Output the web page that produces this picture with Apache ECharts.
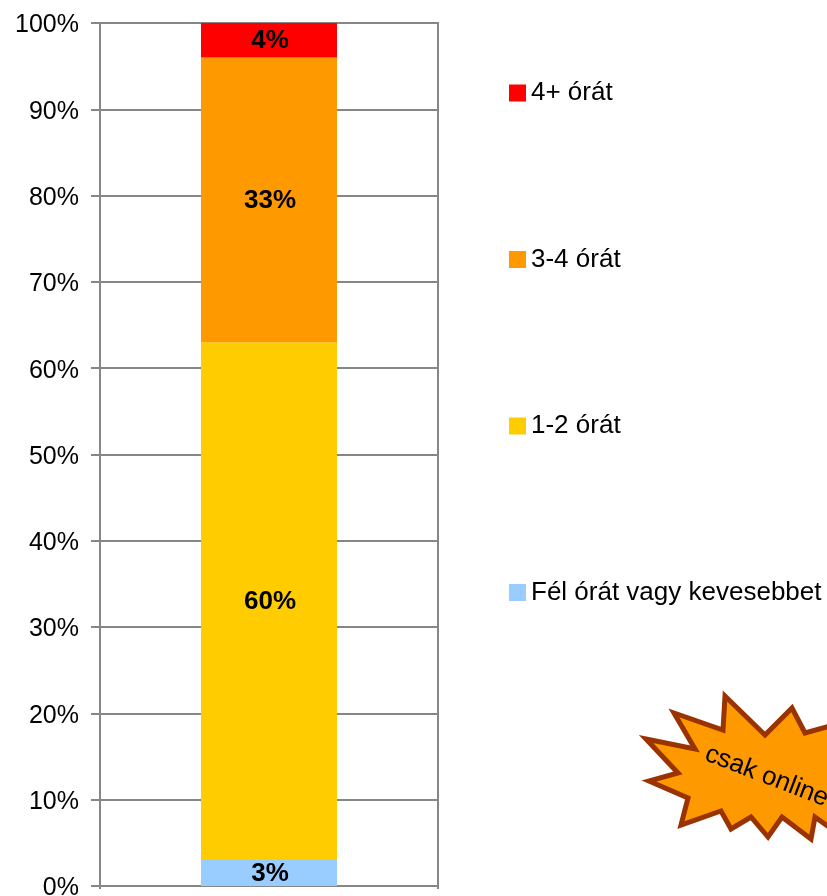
<!DOCTYPE html>
<html>
<head>
<meta charset="utf-8">
<style>
html,body{margin:0;padding:0;background:#fff;overflow:hidden}
#main{width:827px;height:896px}
</style>
<script src="https://cdn.jsdelivr.net/npm/echarts@6/dist/echarts.min.js"></script>
</head>
<body>
<div id="main"></div>
<script>
// adatok
var categories = [''];
var seriesNames = ['Fél órát vagy kevesebbet', '1-2 órát', '3-4 órát', '4+ órát'];
var seriesColors = ['#99ccff', '#ffcc00', '#ff9900', '#ff0000'];
var halfHour = [3];
var oneTwo = [60];
var threeFour = [33];
var fourPlus = [4];
var legendOrder = ['4+ órát', '3-4 órát', '1-2 órát', 'Fél órát vagy kevesebbet'];
var seriesValues = [halfHour, oneTwo, threeFour, fourPlus];

var font = '"Liberation Sans", Arial, sans-serif';
var chart = echarts.init(document.getElementById('main'));

// csillag alakzat (a jobb széle kilóg a képből)
var starPoints = [
    [646, 739], [695, 749], [674, 713], [723, 730], [725, 696], [765, 735], [792, 708],
    [805, 733], [845, 722], [860, 760], [850, 800], [840, 835], [815, 817], [811, 839],
    [782, 817], [768, 837], [751, 817], [731, 829], [721, 811], [681, 825], [688, 798], [649, 781], [678, 773]
];

var series = seriesNames.map(function (name, i) {
    return {
        name: name,
        type: 'bar',
        stack: 'total',
        barWidth: 136,
        data: seriesValues[i],
        itemStyle: {color: seriesColors[i]},
        label: {
            show: true,
            position: 'inside',
            offset: [1, 1],
            formatter: '{c}%',
            color: '#000',
            fontFamily: font,
            fontWeight: 'bold',
            fontSize: 26
        }
    };
});

chart.setOption({
    animation: false,
    backgroundColor: '#fff',
    grid: {
        left: 100, top: 23, width: 338, height: 863,
        outerBoundsMode: 'none',
        show: true, borderColor: '#868686', borderWidth: 2, backgroundColor: 'transparent'
    },
    xAxis: {
        type: 'category',
        data: categories,
        axisLine: {lineStyle: {color: '#868686', width: 2}},
        axisTick: {show: true, length: 3, lineStyle: {color: '#868686', width: 2}},
        axisLabel: {show: false}
    },
    yAxis: {
        type: 'value',
        min: 0,
        max: 100,
        interval: 10,
        axisLine: {show: true, lineStyle: {color: '#868686', width: 2}},
        axisTick: {show: true, length: 9, lineStyle: {color: '#868686', width: 2}},
        splitLine: {lineStyle: {color: '#868686', width: 2}},
        axisLabel: {
            formatter: function (v) {
                return '{a|' + v + '%}';
            },
            margin: 21,
            rich: {
                a: {color: '#000', fontFamily: font, fontSize: 25, padding: [5, 0, 0, 0]}
            }
        }
    },
    legend: {
        orient: 'vertical',
        left: 509,
        top: 80,
        data: legendOrder,
        itemWidth: 17,
        itemHeight: 17,
        itemGap: 140.5,
        padding: 0,
        icon: 'rect',
        selectedMode: false,
        textStyle: {color: '#000', fontFamily: font, fontSize: 26, lineHeight: 17}
    },
    graphic: [
        {
            type: 'polygon',
            z: 10,
            shape: {points: starPoints},
            style: {fill: '#ff9900', stroke: '#993300', lineWidth: 5, lineJoin: 'miter', miterLimit: 20}
        },
        {
            type: 'text',
            z: 11,
            x: 706,
            y: 753,
            rotation: -21 * Math.PI / 180,
            style: {text: 'csak online', fill: '#000', font: '26px ' + font, textAlign: 'left', textVerticalAlign: 'middle'}
        }
    ],
    series: series
});
</script>
</body>
</html>
